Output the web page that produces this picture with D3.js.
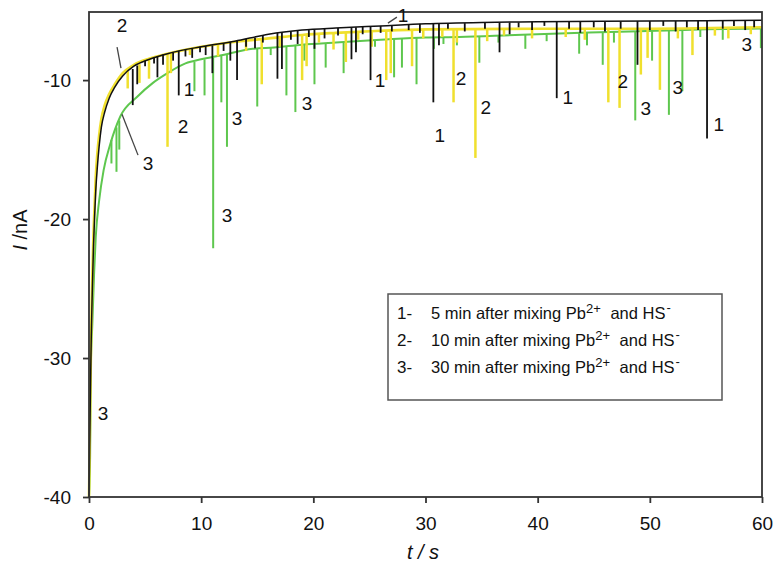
<!DOCTYPE html>
<html>
<head>
<meta charset="utf-8">
<script src="https://cdn.jsdelivr.net/npm/d3@7"></script>
<style>
  body { margin: 0; background: #fff; }
  text { font-family: "Liberation Sans", Arial, sans-serif; fill: #111; }
</style>
</head>
<body>
<div id="chart"></div>
<script>
// axis ticks
var tTicks = [0, 10, 20, 30, 40, 50, 60];
var iTicks = [-40, -30, -20, -10];

// baselines [t, I]
var base1 = [[0,-40],[0.1,-34],[0.2,-28.5],[0.3,-25],[0.4,-22],[0.5,-19.8],[0.6,-18],[0.75,-16.2],[0.9,-14.8],[1.1,-13.4],[1.4,-12.3],[1.8,-11.3],[2.3,-10.5],[3,-9.7],[4,-9.0],[5.4,-8.5],[7,-8.1],[10,-7.6],[13,-7.2],[16,-6.7],[19,-6.4],[22,-6.25],[26,-6.1],[30,-5.95],[35,-5.85],[40,-5.8],[50,-5.75],[60,-5.7]];
var base2 = [[0,-40],[0.1,-34],[0.2,-28],[0.3,-24],[0.4,-21],[0.5,-19],[0.6,-17],[0.75,-15.2],[0.9,-14],[1.1,-12.8],[1.4,-11.8],[1.8,-11],[2.3,-10.3],[3,-9.5],[4,-8.9],[5.4,-8.45],[7,-8.1],[10,-7.6],[13.5,-7.2],[16,-7.0],[19,-6.75],[22,-6.6],[26,-6.45],[30,-6.35],[40,-6.3],[50,-6.3],[60,-6.2]];
var base3 = [[0,-40],[0.1,-37],[0.15,-31],[0.3,-27.5],[0.45,-24],[0.6,-21.3],[0.9,-18.7],[1.3,-16.5],[1.9,-14.6],[2.8,-12.6],[4.3,-11.2],[5.7,-10.2],[7,-9.5],[8.6,-8.8],[10,-8.5],[11.6,-8.25],[14.6,-7.75],[16.5,-7.65],[19,-7.45],[22,-7.3],[26,-7.1],[30,-6.93],[33,-6.9],[38,-6.75],[44.6,-6.57],[50.6,-6.45],[55,-6.35],[60,-6.29]];

// spikes [t, top, bottom]
var spikes1 = [[3.9,-9.2,-11.8],[4.3,-8.95,-10.3],[5.0,-8.6,-9.0],[5.8,-8.4,-8.8],[6.1,-8.3,-9.8],[6.6,-8.15,-8.9],[7.5,-8.0,-8.6],[8.0,-7.9,-11.1],[8.6,-7.8,-8.3],[9.2,-7.7,-8.4],[9.9,-7.6,-8.0],[10.4,-7.55,-8.2],[11.0,-7.5,-9.5],[12.0,-7.35,-7.9],[12.6,-7.25,-8.6],[13.2,-7.15,-10.0],[14.0,-7.05,-7.6],[14.8,-6.95,-7.7],[15.5,-6.8,-7.3],[16.8,-6.6,-9.9],[17.2,-6.55,-9.2],[18.0,-6.5,-7.1],[18.6,-6.45,-7.4],[19.6,-6.4,-6.9],[20.1,-6.35,-7.75],[21.0,-6.3,-7.0],[22.2,-6.25,-6.8],[23.4,-6.2,-8.5],[23.8,-6.2,-8.0],[24.4,-6.15,-6.7],[25.1,-6.15,-10.0],[26.0,-6.1,-6.6],[27.0,-6.05,-6.5],[28.5,-6.0,-6.4],[29.5,-5.95,-6.6],[30.7,-5.95,-11.6],[31.2,-5.95,-7.5],[32.0,-5.9,-6.3],[33.5,-5.9,-6.5],[35.3,-5.85,-6.3],[36.6,-5.85,-8.0],[37.5,-5.85,-6.7],[38.3,-5.85,-6.2],[39.5,-5.8,-6.4],[40.6,-5.8,-6.1],[41.7,-5.8,-11.3],[42.8,-5.8,-6.3],[43.8,-5.8,-6.6],[45.0,-5.78,-6.2],[46.0,-5.78,-6.5],[47.4,-5.77,-6.3],[48.9,-5.75,-8.9],[50.0,-5.75,-6.4],[51.2,-5.75,-6.1],[52.3,-5.75,-6.5],[53.3,-5.74,-6.2],[54.3,-5.73,-6.4],[55.1,-5.75,-14.2],[56.5,-5.72,-6.3],[57.5,-5.72,-6.1],[58.5,-5.71,-6.4],[59.3,-5.7,-6.2]];
var spikes2 = [[3.45,-9.2,-10.6],[4.5,-8.85,-10.2],[5.35,-8.45,-9.9],[7.0,-8.1,-14.8],[7.3,-8.05,-9.5],[9.0,-7.75,-8.2],[11.5,-7.45,-8.3],[14.0,-7.15,-7.9],[15.4,-7.05,-10.3],[17.0,-6.9,-7.6],[19.0,-6.75,-10.0],[19.4,-6.75,-9.0],[20.5,-6.7,-7.3],[21.8,-6.62,-7.8],[22.9,-6.58,-8.7],[24.0,-6.54,-7.1],[25.2,-6.5,-7.6],[26.5,-6.45,-10.0],[26.9,-6.45,-9.5],[28.8,-6.4,-9.0],[29.8,-6.36,-7.0],[31.5,-6.33,-6.9],[32.5,-6.33,-11.6],[32.8,-6.33,-7.3],[34.45,-6.32,-15.6],[35.5,-6.32,-7.2],[37.0,-6.31,-6.8],[39.5,-6.3,-7.0],[42.5,-6.3,-6.9],[44.2,-6.3,-7.1],[46.3,-6.3,-11.6],[47.3,-6.3,-12.0],[49.2,-6.3,-9.6],[49.8,-6.3,-8.4],[50.9,-6.3,-10.7],[52.5,-6.28,-7.0],[53.8,-6.26,-8.2],[55.8,-6.25,-6.8],[57.0,-6.24,-7.0],[59.0,-6.22,-6.7]];
var spikes3 = [[2.0,-14.3,-16.0],[2.45,-13.4,-16.6],[2.7,-12.9,-15.0],[9.4,-8.7,-10.8],[10.3,-8.5,-11.1],[11.07,-8.4,-22.1],[11.8,-8.2,-11.6],[12.3,-8.15,-14.8],[15.0,-7.75,-11.9],[16.2,-7.65,-8.2],[17.6,-7.55,-11.1],[18.4,-7.5,-12.3],[19.2,-7.45,-8.6],[20.1,-7.4,-10.3],[21.1,-7.35,-9.1],[22.7,-7.28,-9.5],[23.8,-7.2,-7.8],[25.5,-7.12,-7.6],[27.2,-7.05,-9.8],[27.9,-7.0,-9.1],[29.2,-6.95,-10.3],[30.75,-6.93,-7.75],[31.6,-6.92,-7.4],[32.8,-6.9,-7.5],[34.8,-6.88,-8.75],[36.5,-6.8,-7.3],[38.9,-6.75,-7.75],[40.8,-6.7,-7.2],[43.7,-6.6,-8.1],[44.4,-6.58,-7.5],[45.8,-6.55,-8.9],[46.8,-6.52,-7.3],[48.7,-6.5,-12.9],[50.2,-6.46,-8.6],[51.7,-6.43,-12.5],[52.9,-6.4,-10.8],[54.5,-6.37,-6.9],[56.5,-6.34,-7.1],[59.9,-6.29,-7.7]];

// curve number labels [text, t, I]
var curveLabels = [["2",2.94,-6.04],["1",8.91,-10.65],["2",8.38,-13.31],["3",13.19,-12.73],["3",5.26,-15.97],["3",19.43,-11.65],["1",25.94,-10.0],["2",33.16,-9.86],["2",35.38,-11.94],["1",31.28,-13.96],["1",27.99,-5.32],["1",42.69,-11.22],["2",47.59,-10.07],["3",49.64,-12.01],["3",52.5,-10.5],["1",56.15,-13.17],["3",58.65,-7.41],["3",12.3,-19.71],["3",1.25,-33.96]];
// leader lines [t1, I1, t2, I2]
var leaders = [[2.50,-7.63,2.85,-9.14],[2.94,-12.45,4.37,-15.4],[26.65,-5.9,27.45,-5.47]];

var legendNums = ["1", "2", "3"];
var legendMins = ["5", "10", "30"];

var width = 775, height = 562;
var svg = d3.select("#chart").append("svg")
    .attr("width", width)
    .attr("height", height);

var x = d3.scaleLinear().domain([0, 60]).range([89, 762]);
var y = d3.scaleLinear().domain([-40, -5.1]).range([497, 12]);

var colors = {1: "#111111", 2: "#f0e02e", 3: "#5ec74e"};

var line = d3.line()
    .x(function(d) { return x(d[0]); })
    .y(function(d) { return y(d[1]); })
    .curve(d3.curveMonotoneX);

function drawSeries(base, spikes, color, w, sw) {
    var g = svg.append("g");
    g.append("path")
        .datum(base)
        .attr("d", line)
        .attr("fill", "none")
        .attr("stroke", color)
        .attr("stroke-width", w);
    g.selectAll("line")
        .data(spikes)
        .enter().append("line")
        .attr("x1", function(d) { return x(d[0]); })
        .attr("x2", function(d) { return x(d[0]); })
        .attr("y1", function(d) { return y(d[1]); })
        .attr("y2", function(d) { return y(d[2]); })
        .attr("stroke", color)
        .attr("stroke-width", sw);
}

drawSeries(base3, spikes3, colors[3], 2, 2);
drawSeries(base2, spikes2, colors[2], 2.6, 2.5);
drawSeries(base1, spikes1, colors[1], 1.5, 1.8);

// axes
var xAxis = svg.append("g")
    .attr("transform", "translate(0,497)")
    .call(d3.axisBottom(x).tickValues(tTicks).tickSize(6).tickPadding(13.5)
        .tickFormat(function(d) { return String(d); }));
var yAxis = svg.append("g")
    .attr("transform", "translate(89,0)")
    .call(d3.axisLeft(y).tickValues(iTicks).tickSize(6).tickPadding(12)
        .tickFormat(function(d) { return String(d); }));
[xAxis, yAxis].forEach(function(a) {
    a.select(".domain").remove();
    a.selectAll("line").attr("stroke", "#333").attr("stroke-width", 1.8);
    a.selectAll("text")
        .attr("font-size", "19px")
        .attr("font-family", "Liberation Sans, Arial, sans-serif")
        .attr("fill", "#111");
});

// frame
svg.append("rect")
    .attr("x", x(0)).attr("y", y(-5.1))
    .attr("width", x(60) - x(0)).attr("height", y(-40) - y(-5.1))
    .attr("fill", "none")
    .attr("stroke", "#333")
    .attr("stroke-width", 1.8);

// axis titles
svg.append("text")
    .attr("x", 423).attr("y", 559)
    .attr("text-anchor", "middle")
    .attr("font-size", "20px")
    .attr("font-style", "italic")
    .text("t / s");

var yt = svg.append("text")
    .attr("transform", "translate(27,230) rotate(-90)")
    .attr("text-anchor", "middle")
    .attr("font-size", "20px");
yt.append("tspan").attr("font-style", "italic").text("I");
yt.append("tspan").text(" /nA");

// leader lines and curve labels
svg.selectAll(".leader")
    .data(leaders)
    .enter().append("line")
    .attr("class", "leader")
    .attr("x1", function(d) { return x(d[0]); })
    .attr("y1", function(d) { return y(d[1]); })
    .attr("x2", function(d) { return x(d[2]); })
    .attr("y2", function(d) { return y(d[3]); })
    .attr("stroke", "#444")
    .attr("stroke-width", 1.3);

svg.selectAll(".clabel")
    .data(curveLabels)
    .enter().append("text")
    .attr("class", "clabel")
    .attr("x", function(d) { return x(d[1]); })
    .attr("y", function(d) { return y(d[2]); })
    .attr("dy", "0.36em")
    .attr("text-anchor", "middle")
    .attr("font-size", "19px")
    .text(function(d) { return d[0]; });

// legend
svg.append("rect")
    .attr("x", 388).attr("y", 294)
    .attr("width", 334).attr("height", 106)
    .attr("fill", "#fff")
    .attr("stroke", "#555")
    .attr("stroke-width", 1.5);

legendNums.forEach(function(n, i) {
    var yy = 319 + i * 27;
    svg.append("text")
        .attr("x", 397).attr("y", yy)
        .attr("font-size", "17px")
        .text(n + "-");
    var t = svg.append("text")
        .attr("x", 431).attr("y", yy)
        .attr("font-size", "16.5px");
    t.append("tspan").text(legendMins[i] + " min after mixing Pb");
    t.append("tspan").attr("font-size", "13px").attr("dy", "-6").text("2+");
    t.append("tspan").attr("dx", "5").attr("dy", "6").text(" and HS");
    t.append("tspan").attr("font-size", "13px").attr("dx", "1").attr("dy", "-7").text("-");
});
</script>
</body>
</html>
